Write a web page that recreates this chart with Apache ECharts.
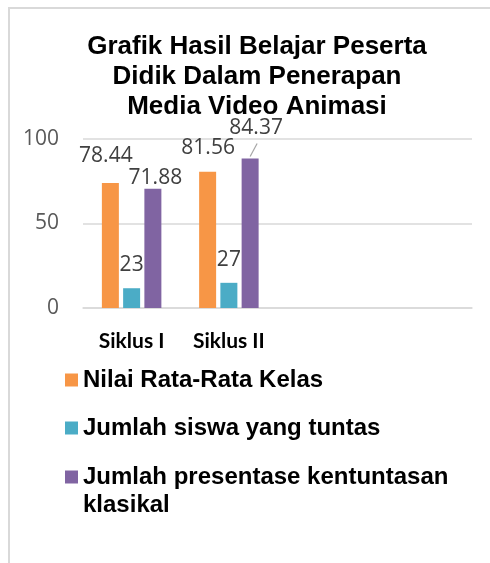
<!DOCTYPE html>
<html>
<head>
<meta charset="utf-8">
<script src="https://cdn.jsdelivr.net/npm/echarts@6/dist/echarts.min.js"></script>
<style>
html,body{margin:0;padding:0;background:#fff;}
#frame{position:absolute;left:8px;top:7px;width:490px;height:560px;border-left:2px solid #d9d9d9;border-top:2px solid #d9d9d9;box-sizing:border-box;}
#chart{position:absolute;left:0;top:0;width:490px;height:563px;}
</style>
</head>
<body>
<div id="frame"></div>
<div id="chart"></div>
<script>
// Data
const categories = ['Siklus I', 'Siklus II', '', ''];
const seriesNames = ['Nilai Rata-Rata Kelas', 'Jumlah siswa yang tuntas', 'Jumlah presentase kentuntasan klasikal'];
// bar heights as drawn in the picture
const nilaiBars = [74.0, 80.6];
const tuntasBars = [11.7, 14.9];
const klasikalBars = [70.5, 88.5];
// value labels as printed
const nilaiLabels = ['78.44', '81.56'];
const tuntasLabels = ['23', '27'];
const klasikalLabels = ['71.88', '84.37'];
const yTicks = [0, 50, 100];

const colors = ['#F79646', '#4BACC6', '#8064A2'];
const labelFont = {fontFamily: 'Open Sans', fontSize: 21, color: '#404040'};

function mkData(vals, labels, offsets) {
  return vals.map((v, i) => ({
    value: v,
    label: {formatter: labels[i], offset: offsets[i]}
  }));
}

const chart = echarts.init(document.getElementById('chart'), null, {renderer: 'canvas'});
const legendBase = {
  orient: 'vertical', left: 65, padding: 0, itemWidth: 13, itemHeight: 13, icon: 'rect',
  selectedMode: false,
  textStyle: {fontFamily: 'Liberation Sans', fontWeight: 'bold', fontSize: 24, color: '#000', lineHeight: 28}
};
chart.setOption({
  animation: false,
  color: colors,
  title: {
    text: 'Grafik Hasil Belajar Peserta\nDidik Dalam Penerapan\nMedia Video Animasi',
    left: 252, top: 27, textAlign: 'center',
    textStyle: {fontFamily: 'Liberation Sans', fontWeight: 'bold', fontSize: 26, color: '#000', lineHeight: 30}
  },
  legend: [
    Object.assign({}, legendBase, {top: 366, data: [seriesNames[0]]}),
    Object.assign({}, legendBase, {top: 414, data: [seriesNames[1]]}),
    Object.assign({}, legendBase, {top: 435, data: [seriesNames[2]],
      formatter: function (n) { return ' \n' + n; },
      textStyle: Object.assign({}, legendBase.textStyle, {width: 385, overflow: 'break'})})
  ],
  grid: {left: 83, right: 18, top: 139, bottom: 255},
  xAxis: {
    type: 'category', data: categories,
    axisLine: {lineStyle: {color: '#d9d9d9', width: 1.5}},
    axisTick: {show: false},
    axisLabel: {margin: 23, fontFamily: 'Lato', fontWeight: 'bold', fontSize: 21, color: '#000'}
  },
  yAxis: {
    type: 'value', min: yTicks[0], max: yTicks[yTicks.length - 1], interval: 50,
    axisLine: {show: false}, axisTick: {show: false},
    splitLine: {lineStyle: {color: '#d9d9d9', width: 1.5}},
    axisLabel: {margin: 24, fontFamily: 'Open Sans', fontSize: 21, color: '#595959'}
  },
  series: [
    {name: seriesNames[0], type: 'bar', barWidth: 17, barGap: '25%',
      label: Object.assign({show: true, position: 'top', distance: 0}, labelFont),
      data: mkData(nilaiBars, nilaiLabels, [[-4.5, -16], [0.5, -13]])},
    {name: seriesNames[1], type: 'bar', barWidth: 17, barGap: '25%',
      label: Object.assign({show: true, position: 'top', distance: 0}, labelFont),
      data: mkData(tuntasBars, tuntasLabels, [[0, -13], [0, -12.5]])},
    {name: seriesNames[2], type: 'bar', barWidth: 17, barGap: '25%',
      label: Object.assign({show: true, position: 'top', distance: 0}, labelFont),
      data: mkData(klasikalBars, klasikalLabels, [[2.5, -0.5], [6, -19.5]])}
  ]
});

// leader line for the moved 84.37 label, anchored to the bar's computed layout
const lay = chart.getModel().getSeriesByIndex(2).getData().getItemLayout(1);
if (lay) {
  const cx = lay.x + lay.width / 2;
  const topY = Math.min(lay.y, lay.y + lay.height);
  chart.setOption({
    graphic: [{
      type: 'line', silent: true,
      shape: {x1: cx, y1: topY - 2, x2: cx + 7, y2: topY - 15},
      style: {stroke: '#a6a6a6', lineWidth: 1.2}
    }]
  });
}
</script>
</body>
</html>
